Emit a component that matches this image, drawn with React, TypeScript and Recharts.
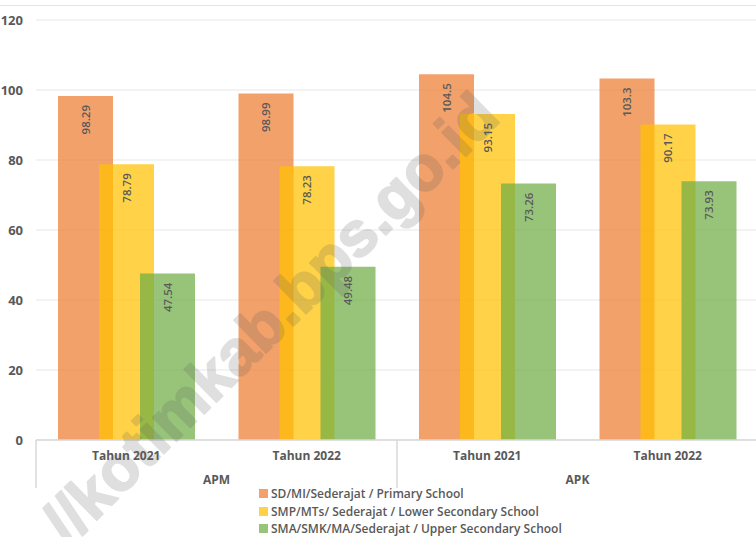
import { BarChart, Bar, XAxis, YAxis, CartesianGrid, LabelList } from "recharts";

const years = ["Tahun 2021", "Tahun 2022", "Tahun 2021", "Tahun 2022"];
const groups = ["APM", "APM", "APK", "APK"];
const primary = [98.29, 98.99, 104.5, 103.3];
const lowerSec = [78.79, 78.23, 93.15, 90.17];
const upperSec = [47.54, 49.48, 73.26, 73.93];
const yTicks = [0, 20, 40, 60, 80, 100, 120];

const seriesNames = [
  "SD/MI/Sederajat / Primary School",
  "SMP/MTs/ Sederajat / Lower Secondary School",
  "SMA/SMK/MA/Sederajat / Upper Secondary School",
];
const seriesKeys = ["primary", "lowerSec", "upperSec"];
const seriesColors = ["#ED7D31", "#FFC000", "#70AD47"];
const ALPHA = 0.72;

const data = years.map((year, i) => ({
  year,
  group: groups[i],
  primary: primary[i],
  lowerSec: lowerSec[i],
  upperSec: upperSec[i],
}));

const FONT = "'Open Sans', sans-serif";
const GREY = "#595959";
const LINE = "#D9D9D9";

// value label rotated, sitting just inside the top of the bar
const BarLabel = (props: any) => {
  const { x, y, width, value } = props;
  const cx = x + width / 2;
  const cy = y + 9;
  return (
    <text x={cx} y={cy} transform={`rotate(-90 ${cx} ${cy})`} textAnchor="end" dominantBaseline="central"
      fontFamily={FONT} fontSize={11.5} fontWeight={600} fill={GREY}>
      {value}
    </text>
  );
};

const YearTick = (props: any) => {
  const { x, y, payload } = props;
  return (
    <text x={x} y={y + 3} dy="0.71em" textAnchor="middle" fontFamily={FONT} fontSize={12} fontWeight={700} fill={GREY}>
      {payload.value}
    </text>
  );
};

// outer level: one label per pair of years plus the separator line at the left of each pair
const GroupTick = (props: any) => {
  const { x, y, payload, index } = props;
  if (index % 2 !== 0) return <g />;
  const half = payload.offset ?? 90;
  return (
    <g>
      <line x1={x - half} x2={x - half} y1={y - 32} y2={y + 16} stroke={LINE} strokeWidth={1.5} />
      <text x={x + half} y={y + 3} dy="0.71em" textAnchor="middle" fontFamily={FONT} fontSize={12} fontWeight={700} fill={GREY}>
        {payload.value}
      </text>
    </g>
  );
};

export default function App() {
  return (
    <div style={{ position: "absolute", left: 0, top: 0, width: 756, height: 537, overflow: "hidden", background: "#fff" }}>
      <div style={{ position: "absolute", left: 0, top: 5, width: 756, borderTop: "1.5px solid #E4E4E4" }} />
      <div style={{ position: "absolute", left: 0, top: 0 }}>
        <BarChart width={758} height={537} data={data} barSize={55} barGap={-14}
          margin={{ top: 20, right: 0, left: 0, bottom: 49 }}>
          <CartesianGrid vertical={false} stroke="#E8E8E8" strokeWidth={1.2} />
          <YAxis domain={[0, 120]} ticks={yTicks} width={36} axisLine={false} tickLine={false} tickMargin={7}
            tick={{ fontFamily: FONT, fontSize: 13, fontWeight: 700, fill: GREY }} />
          <XAxis dataKey="year" height={24} interval={0} tickLine={false}
            axisLine={{ stroke: LINE, strokeWidth: 1.5 }} tick={<YearTick />} />
          <XAxis xAxisId="grp" dataKey="group" height={24} interval={0} axisLine={false} tickLine={false}
            allowDuplicatedCategory tick={<GroupTick />} />
          {seriesKeys.map((k, i) => (
            <Bar key={k} dataKey={k} name={seriesNames[i]} fill={seriesColors[i]} fillOpacity={ALPHA}
              isAnimationActive={false}>
              <LabelList dataKey={k} content={<BarLabel />} />
            </Bar>
          ))}
        </BarChart>
      </div>
      <div style={{ position: "absolute", left: 259, top: 485, fontFamily: FONT, fontSize: 12, fontWeight: 600, color: GREY }}>
        {seriesNames.map((n, i) => (
          <div key={n} style={{ display: "flex", alignItems: "center", height: 17.5, whiteSpace: "nowrap" }}>
            <span style={{ width: 9, height: 9, background: seriesColors[i], opacity: ALPHA, marginRight: 3 }} />
            {n}
          </div>
        ))}
      </div>
      <svg width={756} height={537} style={{ position: "absolute", left: 0, top: 0, pointerEvents: "none" }}>
        <g opacity={0.19}>
          <text x={270} y={318} transform="rotate(-44.6 270 318)" textAnchor="middle" dominantBaseline="central"
            fontFamily="'Liberation Sans', Arial, sans-serif" fontWeight={700} fontSize={63}
            fill="rgb(90,90,90)" stroke="rgb(90,90,90)" strokeWidth={2} strokeLinejoin="round">
            //kotimkab.bps.go.id
          </text>
        </g>
      </svg>
    </div>
  );
}
